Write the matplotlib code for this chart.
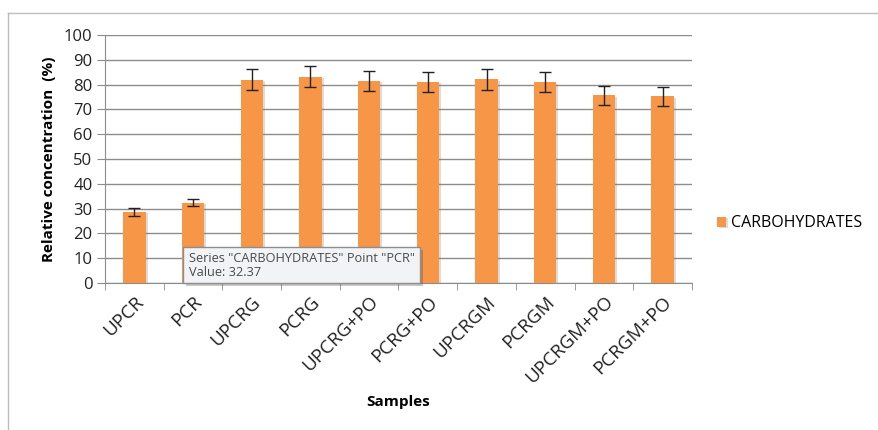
import matplotlib
matplotlib.use('Agg')
import matplotlib.pyplot as plt
import matplotlib.patheffects as pe
from matplotlib.lines import Line2D
from matplotlib.patches import FancyBboxPatch
import numpy as np

samples = ['UPCR', 'PCR', 'UPCRG', 'PCRG', 'UPCRG+PO', 'PCRG+PO',
           'UPCRGM', 'PCRGM', 'UPCRGM+PO', 'PCRGM+PO']
carbohydrates = [28.7, 32.37, 81.9, 83.2, 81.5, 81.1, 82.1, 80.9, 75.7, 75.3]
errors = [1.7, 1.5, 4.2, 4.2, 4.1, 4.1, 4.2, 4.0, 3.8, 3.8]
yticks = [0, 10, 20, 30, 40, 50, 60, 70, 80, 90, 100]

plt.rcParams['font.family'] = ['Open Sans', 'DejaVu Sans']
orange = '#F79646'
grid_c = '#8c8c8c'

fig = plt.figure(figsize=(8.79, 4.30), dpi=100)
ax = fig.add_axes([105/879, 1-283/430, 587/879, 248/430])

x = np.arange(len(samples))
bars = ax.bar(x, carbohydrates, width=0.38, color=orange, zorder=3,
              yerr=errors, capsize=4, error_kw=dict(ecolor='#222222', elinewidth=1, capthick=1, zorder=4),
              label='CARBOHYDRATES')
for b in bars:
    b.set_path_effects([pe.SimplePatchShadow(offset=(1.5, -1), alpha=0.25, shadow_rgbFace='#777777'), pe.Normal()])

ax.set_xlim(-0.5, len(samples) - 0.5)
ax.set_ylim(0, 100)
ax.set_yticks(yticks)
ax.yaxis.grid(True, color=grid_c, linewidth=1, zorder=0)
ax.set_axisbelow(True)

for s in ['top', 'right']:
    ax.spines[s].set_visible(False)
for s in ['left', 'bottom']:
    ax.spines[s].set_color(grid_c)

ax.tick_params(axis='y', length=6, color=grid_c, labelsize=12, pad=3, labelcolor='#222222')
ax.set_xticks(x)
ax.set_xticklabels(samples, rotation=45, ha='right', rotation_mode='anchor', fontsize=13.5, color='#222222')
ax.tick_params(axis='x', which='major', length=0, pad=7)
ax.set_xticks(np.arange(-0.5, len(samples), 1.0), minor=True)
ax.tick_params(axis='x', which='minor', length=5, color=grid_c)

ax.set_ylabel('Relative concentration  (%)', fontsize=11, fontweight='bold', labelpad=6)
ax.set_xlabel('Samples', fontsize=11, fontweight='bold')
ax.xaxis.set_label_coords(0.5, -0.45)

leg = ax.legend(loc='center left', bbox_to_anchor=(1.018, 0.24), frameon=False,
                fontsize=11.5, handlelength=0.55, handleheight=0.55, handletextpad=0.35)

# tooltip box shown in the screenshot
tip = FancyBboxPatch((183/879, 1-283/430), 237/879, 36/430, boxstyle='square,pad=0',
                     transform=fig.transFigure, facecolor='#f2f3f7', edgecolor='#8e8e8e',
                     linewidth=1, zorder=10,
                     path_effects=[pe.SimplePatchShadow(offset=(2, -2), alpha=0.3), pe.Normal()])
fig.add_artist(tip)
fig.text(189/879, 1-258/430, 'Series "CARBOHYDRATES" Point "PCR"', fontsize=9.2,
         color='#4a4a4a', va='center', zorder=11)
fig.text(189/879, 1-273/430, 'Value: 32.37', fontsize=9.2, color='#4a4a4a', va='center', zorder=11)

# outer chart frame, cut off on the right and bottom
fig.add_artist(Line2D([8/879, 1], [1-13/430, 1-13/430], transform=fig.transFigure, color='#bdbdbd', lw=1))
fig.add_artist(Line2D([8/879, 8/879], [1-13/430, 0], transform=fig.transFigure, color='#bdbdbd', lw=1))

fig.savefig('out.png', dpi=100)
